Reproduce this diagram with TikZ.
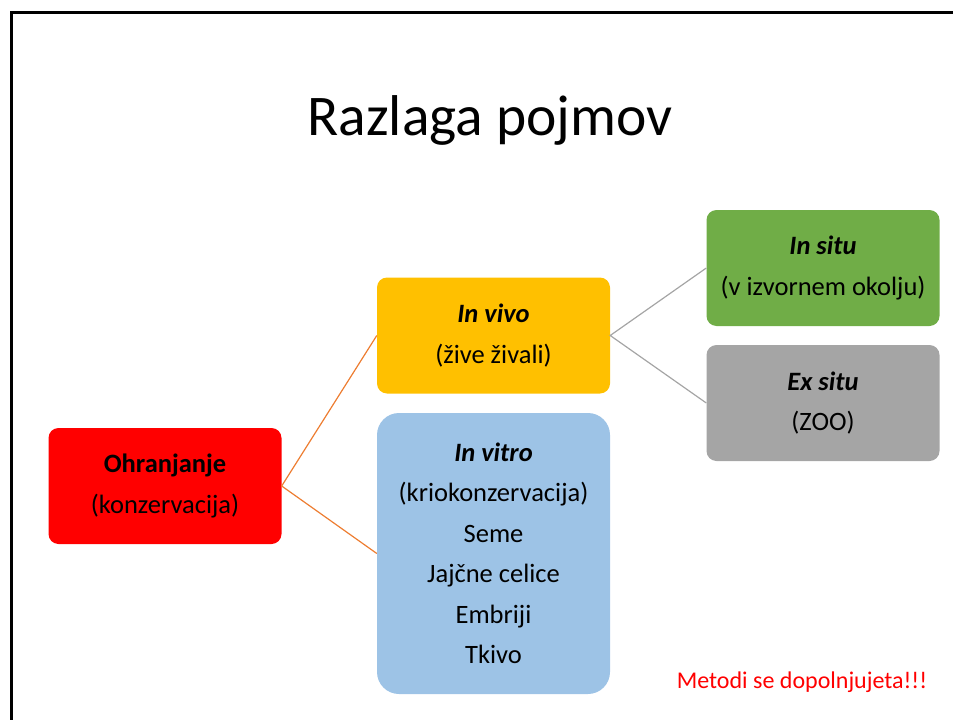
\documentclass[tikz,border=0pt]{standalone}
\usepackage{fontspec}
\setmainfont{Carlito}

\definecolor{ohrred}{HTML}{FF0000}
\definecolor{vivoyellow}{HTML}{FFC000}
\definecolor{vitroblue}{HTML}{9DC3E6}
\definecolor{situgreen}{HTML}{70AD47}
\definecolor{exgray}{HTML}{A5A5A5}
\definecolor{linkorange}{HTML}{ED7D31}

\tikzset{
  box/.style={rounded corners=10pt, minimum width=233pt, minimum height=116pt,
    inner sep=0pt, align=center, font=\fontsize{26.5}{40.5}\selectfont},
  link/.style={line width=1.2pt}
}

\begin{document}
\begin{tikzpicture}[x=1pt, y=-1pt]
  \useasboundingbox (0,0) rectangle (954,720);
  \draw[line width=3pt] (11,720) -- (11,12) -- (953,12);

  \node[anchor=base, font=\fontsize{57.5}{62}\selectfont] (title) at (490,135) {Razlaga pojmov};

  \node[box, fill=ohrred] (ohr) at (165,486) {\textbf{Ohranjanje}\\(konzervacija)};
  \node[box, fill=vivoyellow] (vivo) at (493.5,335.5) {\textbf{\textit{In vivo}}\\(žive živali)};
  \node[box, fill=vitroblue, rounded corners=22pt, minimum height=281pt] (vitro) at (493.5,553.5)
    {\textbf{\textit{In vitro}}\\(kriokonzervacija)\\Seme\\Jajčne celice\\Embriji\\Tkivo};
  \node[box, fill=situgreen] (insitu) at (823,268) {\textbf{\textit{In situ}}\\(v izvornem okolju)};
  \node[box, fill=exgray] (exsitu) at (823,403) {\textbf{\textit{Ex situ}}\\(ZOO)};

  \draw[link, linkorange] (vivo.west) -- (ohr.east) -- (vitro.west);
  \draw[link, exgray] (insitu.west) -- (vivo.east) -- (exsitu.west);

  \node[anchor=base, text=ohrred, font=\fontsize{24}{28}\selectfont] (note) at (802,688) {Metodi se dopolnjujeta!!!};
\end{tikzpicture}
\end{document}
